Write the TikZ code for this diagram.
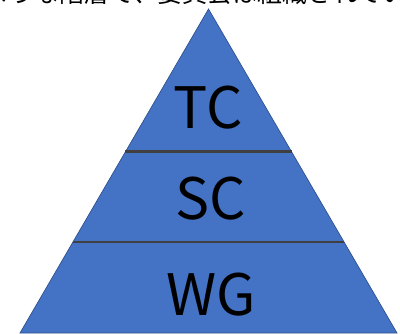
\documentclass[tikz,border=0pt]{standalone}
\usepackage{fontspec}
\setmainfont{Noto Sans CJK JP}
\newfontfamily\jpfont{Noto Sans CJK JP}
\usetikzlibrary{calc}
\definecolor{tierblue}{HTML}{4472C4}
\definecolor{tieredge}{HTML}{2F528F}
\definecolor{divgray}{HTML}{404040}

\begin{document}
\begin{tikzpicture}[scale=1.0,
  tier/.style={font=\jpfont\fontsize{32.5}{36}\selectfont,inner sep=0pt},
  divider/.style={draw=divgray,line width=1.6pt}]
\useasboundingbox (0,0) rectangle (8,6.66);
\clip (0,0) rectangle (8,6.66);
% cut-off caption above the pyramid
\node[anchor=base east,inner sep=0pt,font=\jpfont\fontsize{14.2}{17}\selectfont] (caption) at (9.14,6.62) {このような階層で、委員会は組織されています};
% pyramid
\coordinate (apex) at (4.17,6.48);
\coordinate (bl) at (0.40,0);
\coordinate (br) at (7.94,0);
\fill[tierblue,draw=tieredge,line width=0.4pt] (apex) -- (br) -- (bl) -- cycle;
\coordinate (d1l) at ($(apex)!0.441!(bl)$);
\coordinate (d1r) at ($(apex)!0.441!(br)$);
\coordinate (d2l) at ($(apex)!0.719!(bl)$);
\coordinate (d2r) at ($(apex)!0.719!(br)$);
\draw[divider] (d1l) -- (d1r);
\draw[divider] (d2l) -- (d2r);
\node[tier] (tc) at (4.17,4.50) {TC};
\node[tier] (sc) at (4.22,2.68) {SC};
\node[tier] (wg) at (4.22,0.76) {WG};
\end{tikzpicture}
\end{document}
